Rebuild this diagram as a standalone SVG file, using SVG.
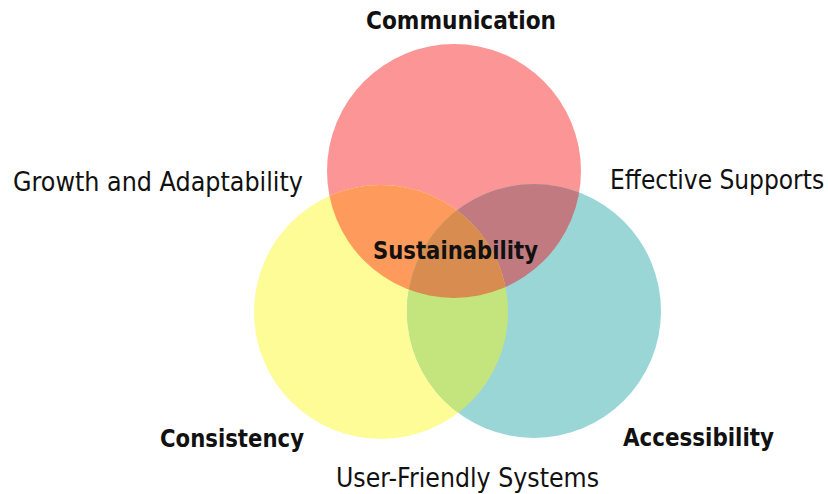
<svg xmlns="http://www.w3.org/2000/svg" xmlns:xlink="http://www.w3.org/1999/xlink" width="828" height="494" viewBox="0 0 828 494">
  <style>
    .lbl { font-family: "DejaVu Sans", "Liberation Sans", sans-serif; fill: #111111; }
    .reg { font-size: 26px; font-weight: normal; }
    .bold { font-size: 24px; font-weight: bold; }
  </style>
  <defs>
    <circle id="cRed" cx="454" cy="171" r="127"/>
    <circle id="cYellow" cx="381" cy="312" r="127"/>
    <circle id="cTeal" cx="534" cy="311" r="127"/>
    <clipPath id="clipRed"><use xlink:href="#cRed"/></clipPath>
    <clipPath id="clipYellow"><use xlink:href="#cYellow"/></clipPath>
  </defs>

  <rect width="828" height="494" fill="#ffffff"/>

  <!-- the three sets -->
  <g id="communication">
    <use xlink:href="#cRed" fill="#FC9696"/>
    <text class="lbl bold" x="366" y="29" textLength="190" lengthAdjust="spacingAndGlyphs">Communication</text>
  </g>
  <g id="consistency">
    <use xlink:href="#cYellow" fill="#FDFC96"/>
    <text class="lbl bold" x="160" y="447" textLength="144" lengthAdjust="spacingAndGlyphs">Consistency</text>
  </g>
  <g id="accessibility">
    <use xlink:href="#cTeal" fill="#9BD6D6"/>
    <text class="lbl bold" x="623" y="446" textLength="151" lengthAdjust="spacingAndGlyphs">Accessibility</text>
  </g>

  <!-- pairwise overlaps -->
  <g id="growth-and-adaptability">
    <use xlink:href="#cYellow" fill="#FE9A5C" clip-path="url(#clipRed)"/>
    <text class="lbl reg" x="13" y="191" textLength="290" lengthAdjust="spacingAndGlyphs">Growth and Adaptability</text>
  </g>
  <g id="effective-supports">
    <use xlink:href="#cTeal" fill="#C07A80" clip-path="url(#clipRed)"/>
    <text class="lbl reg" transform="translate(610,189) scale(0.9,1)" x="0" y="0">Effective Supports</text>
  </g>
  <g id="user-friendly-systems">
    <use xlink:href="#cTeal" fill="#C4E47E" clip-path="url(#clipYellow)"/>
    <text class="lbl reg" x="336" y="487" textLength="263" lengthAdjust="spacingAndGlyphs">User-Friendly Systems</text>
  </g>

  <!-- centre where all three meet -->
  <g id="sustainability">
    <g clip-path="url(#clipRed)">
      <use xlink:href="#cTeal" fill="#D88C50" clip-path="url(#clipYellow)"/>
    </g>
    <text class="lbl bold" x="373" y="259" textLength="165" lengthAdjust="spacingAndGlyphs" style="font-size:25px">Sustainability</text>
  </g>

  <g id="connectors"/>
</svg>
